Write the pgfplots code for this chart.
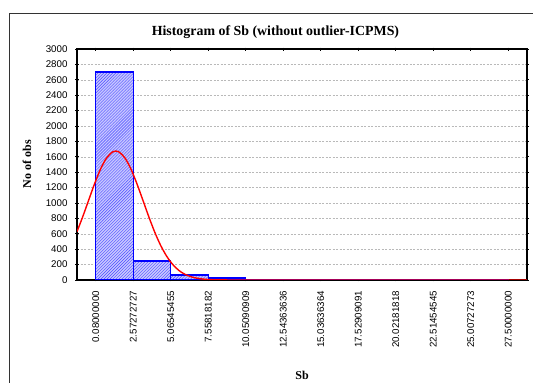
\documentclass[border=0pt]{standalone}
\usepackage{fontspec}
\setmainfont{Liberation Serif}
\newfontfamily\arial{Liberation Sans}
\usepackage{pgfplots}
\pgfplotsset{compat=1.18}
\usetikzlibrary{patterns}
\begin{document}
\begin{tikzpicture}
\begin{axis}[
  at={(77bp,103bp)}, anchor=south west,
  scale only axis, width=450bp, height=231bp,
  xmin=-1.16636364, xmax=28.74636364,
  ymin=0, ymax=3000,
  ytick={0,200,...,3000},
  xtick={0.08,2.57272727,5.06545455,7.55818182,10.05090909,12.54363636,15.03636364,17.52909091,20.02181818,22.51454545,25.00727273,27.5},
  xticklabels={0.08000000,2.57272727,5.06545455,7.55818182,10.05090909,12.54363636,15.03636364,17.52909091,20.02181818,22.51454545,25.00727273,27.50000000},
  /pgf/number format/.cd, 1000 sep={}, assume math mode=true, /pgfplots/.cd,
  ticklabel style={font=\arial\fontsize{9.75bp}{11bp}\selectfont},
  yticklabel style={xshift=-4.5bp},
  xticklabel style={yshift=-6bp, rotate=90, anchor=east},
  tick align=center, major tick length=3bp,
  tick style={black, line width=0.8bp},
  axis line style={black, line width=1.3bp},
  ymajorgrids,
  grid style={gray!55, line width=0.5bp, dash pattern=on 2bp off 1.5bp},
  every axis title shift=0pt,
  title={Histogram of Sb (without outlier-ICPMS)},
  title style={at={(axis description cs:0.441,1.0736)}, anchor=center, yshift=0pt, font=\bfseries\fontsize{13.9bp}{16bp}\selectfont},
  xlabel={Sb},
  xlabel style={at={(axis description cs:0.5,-0.411)}, anchor=center, font=\bfseries\fontsize{12bp}{14bp}\selectfont},
  ylabel={No of obs},
  ylabel style={at={(axis description cs:-0.111,0.502)}, anchor=center, rotate=0, font=\bfseries\fontsize{12bp}{14bp}\selectfont},
]
\addplot[ybar interval, draw=blue, line width=1.3bp, fill=blue!22,
  postaction={pattern=north east lines, pattern color=blue!70}]
  coordinates {
  (0.08,2700) (2.57272727,245) (5.06545455,65) (7.55818182,25)
  (10.05090909,5) (12.54363636,2) (15.03636364,1) (17.52909091,0)
  (20.02181818,0) (22.51454545,0) (25.00727273,1) (27.5,0)
  };
\addplot[red, line width=1.4bp, smooth] coordinates {
  (-1.166,629) (-0.8,814) (-0.4,1032) (0,1249) (0.4,1441) (0.8,1585)
  (1.2,1664) (1.41,1675) (1.6,1666) (2.0,1591) (2.4,1449) (2.8,1259)
  (3.2,1044) (3.6,825) (4.0,622) (4.4,447) (4.8,307) (5.2,201)
  (5.6,125) (6.0,75) (6.5,37) (7.0,17) (7.5,7) (8.0,2.7) (9.0,0.3)
  (10,0) (15,0) (20,0) (25,0) (28.746,0)
};
\end{axis}
\draw[line width=1.6bp, black!80] (9.5bp,0bp) -- (9.5bp,369.5bp) -- (533bp,369.5bp);
\pgfresetboundingbox
\useasboundingbox (0bp,0bp) rectangle (533bp,383bp);
\end{tikzpicture}
\end{document}
